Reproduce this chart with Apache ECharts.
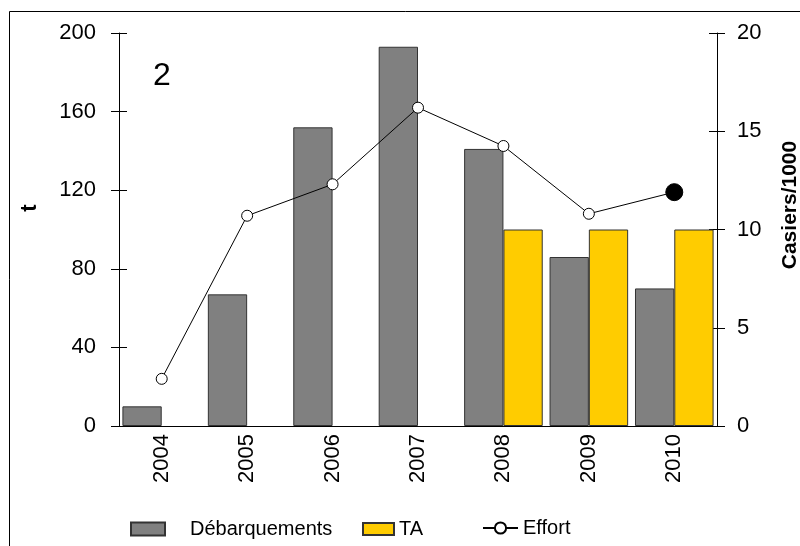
<!DOCTYPE html>
<html>
<head>
<meta charset="utf-8">
<script src="https://cdn.jsdelivr.net/npm/echarts@6/dist/echarts.min.js"></script>
<style>
    html, body { margin: 0; padding: 0; background: #fff; }
    #main { width: 800px; height: 546px; }
</style>
</head>
<body>
<div id="main"></div>
<script>
// données
var years = ['2004', '2005', '2006', '2007', '2008', '2009', '2010'];
var debarquements = [10, 67, 152, 193, 141, 86, 70];
var ta = [null, null, null, null, 100, 100, 100];
var effort = [2.4, 10.7, 12.3, 16.2, 14.25, 10.8, 11.9];
var leftTicks = { min: 0, max: 200, interval: 40 };
var rightTicks = { min: 0, max: 20, interval: 5 };

var chart = echarts.init(document.getElementById('main'));
var font = 'Liberation Sans, Arial, sans-serif';

var effortData = [];
for (var i = 0; i < effort.length; i++) {
    if (i == effort.length - 1) {
        // dernier point en noir
        effortData.push({ value: effort[i], symbolSize: 17, itemStyle: { color: '#000' } });
    } else {
        effortData.push(effort[i]);
    }
}

var option = {
    animation: false,
    backgroundColor: '#fff',
    textStyle: { fontFamily: font },
    grid: { left: 119, right: 83, top: 33, bottom: 120 },
    xAxis: {
        type: 'category',
        data: years,
        axisLine: { lineStyle: { color: '#000', width: 1 } },
        axisTick: { length: 8, lineStyle: { color: '#000' } },
        axisLabel: { rotate: 90, margin: 8, fontSize: 22, color: '#000', fontFamily: font }
    },
    yAxis: [
        {
            type: 'value', position: 'left',
            min: leftTicks.min, max: leftTicks.max, interval: leftTicks.interval,
            splitLine: { show: false },
            axisLine: { show: true, lineStyle: { color: '#000' } },
            axisTick: { show: true, length: 8, lineStyle: { color: '#000' } },
            axisLabel: { margin: 23, fontSize: 22, color: '#000', fontFamily: font }
        },
        {
            type: 'value', position: 'right',
            min: rightTicks.min, max: rightTicks.max, interval: rightTicks.interval,
            splitLine: { show: false },
            axisLine: { show: true, lineStyle: { color: '#000' } },
            axisTick: { show: true, length: 8, lineStyle: { color: '#000' } },
            axisLabel: { margin: 20, fontSize: 22, color: '#000', fontFamily: font }
        },
        {
            // ticks à l'intérieur, côté gauche
            type: 'value', position: 'left',
            min: leftTicks.min, max: leftTicks.max, interval: leftTicks.interval,
            splitLine: { show: false },
            axisLine: { show: false },
            axisTick: { show: true, inside: true, length: 8, lineStyle: { color: '#000' } },
            axisLabel: { show: false }
        },
        {
            type: 'value', position: 'right',
            min: rightTicks.min, max: rightTicks.max, interval: rightTicks.interval,
            splitLine: { show: false },
            axisLine: { show: false },
            axisTick: { show: true, inside: true, length: 8, lineStyle: { color: '#000' } },
            axisLabel: { show: false }
        }
    ],
    legend: [
        {
            data: ['Débarquements'], left: 125, top: 514,
            icon: 'rect', itemWidth: 34, itemHeight: 13,
            textStyle: { fontSize: 20, color: '#000', fontFamily: font, padding: [0, 0, 0, 20] }
        },
        {
            data: ['TA'], left: 357, top: 514,
            icon: 'rect', itemWidth: 31, itemHeight: 12,
            textStyle: { fontSize: 20, color: '#000', fontFamily: font }
        },
        {
            data: ['Effort'], left: 477, top: 513,
            itemWidth: 35, itemHeight: 14,
            textStyle: { fontSize: 20, color: '#000', fontFamily: font }
        }
    ],
    series: [
        {
            name: 'Débarquements',
            type: 'bar',
            data: debarquements,
            barGap: 0,
            barCategoryGap: '8%',
            itemStyle: { color: '#808080', borderColor: '#333', borderWidth: 1 }
        },
        {
            name: 'TA',
            type: 'bar',
            data: ta,
            barGap: 0,
            barCategoryGap: '8%',
            itemStyle: { color: '#FFCC00', borderColor: '#333', borderWidth: 1 }
        },
        {
            name: 'Effort',
            type: 'line',
            yAxisIndex: 1,
            data: effortData,
            symbol: 'circle',
            symbolSize: 11,
            lineStyle: { color: '#000', width: 1 },
            itemStyle: { color: '#fff', borderColor: '#000', borderWidth: 1 },
            z: 5
        }
    ],
    graphic: [
        {
            type: 'rect', silent: true, z: -1,
            shape: { x: 9.5, y: 11.5, width: 1000, height: 1000 },
            style: { fill: 'none', stroke: '#000', lineWidth: 1 }
        },
        {
            type: 'text', left: 153, top: 60,
            style: { text: '2', font: '32px ' + font, fill: '#000' }
        },
        {
            type: 'text', x: 30, y: 208, rotation: Math.PI / 2,
            style: { text: 't', font: 'bold 22px ' + font, fill: '#000', textAlign: 'center', textVerticalAlign: 'middle' }
        },
        {
            type: 'text', x: 790, y: 205, rotation: Math.PI / 2,
            style: { text: 'Casiers/1000', font: 'bold 21px ' + font, fill: '#000', textAlign: 'center', textVerticalAlign: 'middle' }
        }
    ]
};
chart.setOption(option);
</script>
</body>
</html>
